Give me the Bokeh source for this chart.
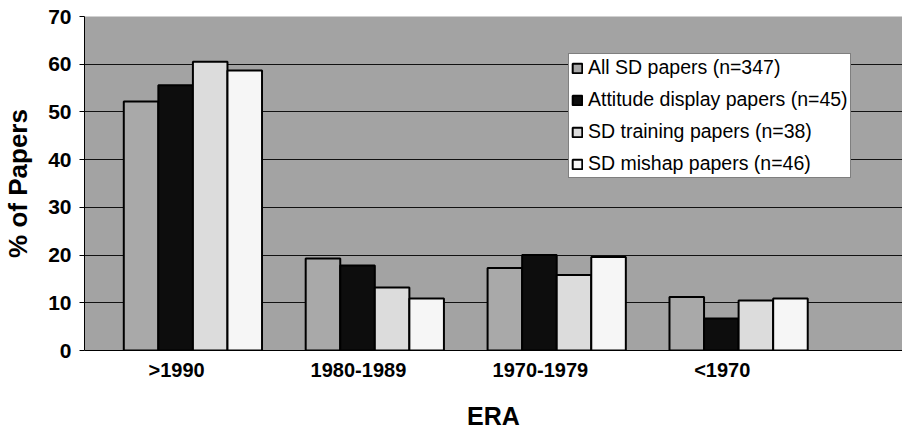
from bokeh.plotting import figure
from bokeh.models import Range1d, FixedTicker, ColumnDataSource, Legend
from bokeh.embed import file_html
from bokeh.resources import INLINE

# ---- data ----
eras = [">1990", "1980-1989", "1970-1979", "<1970"]
series_names = [
    "All SD papers (n=347)",
    "Attitude display papers (n=45)",
    "SD training papers (n=38)",
    "SD mishap papers (n=46)",
]
all_sd = [52.2, 19.3, 17.3, 11.2]
attitude = [55.6, 17.8, 20.0, 6.7]
training = [60.5, 13.2, 15.8, 10.5]
mishap = [58.7, 10.9, 19.6, 10.9]
y_ticks = [0, 10, 20, 30, 40, 50, 60, 70]

series_values = [all_sd, attitude, training, mishap]
colors = ["#a9a9a9", "#0d0d0d", "#dcdcdc", "#f6f6f6"]

FONT = "Liberation Sans"

p = figure(
    width=902, height=432,
    x_range=Range1d(-0.596, 3.901), y_range=Range1d(0, 70),
    output_backend="svg", toolbar_location=None,
    min_border_left=84, min_border_right=0, min_border_top=16, min_border_bottom=80,
)
p.background_fill_color = "#a3a3a3"
p.border_fill_color = "white"
p.outline_line_color = None

bar_w = 0.19
offsets = [-1.5 * bar_w, -0.5 * bar_w, 0.5 * bar_w, 1.5 * bar_w]
idx = list(range(len(eras)))
renderers = []
for name, vals, col, off in zip(series_names, series_values, colors, offsets):
    src = ColumnDataSource(dict(x=[i + off for i in idx], top=vals))
    r = p.vbar(x="x", top="top", width=bar_w, bottom=0, source=src,
               fill_color=col, line_color="black", line_width=2)
    renderers.append((name, [r]))

legend = Legend(items=renderers, location=(484, 172))
legend.label_text_font = FONT
legend.label_text_font_size = "19.5px"
legend.label_text_color = "black"
legend.label_height = 22
legend.glyph_width = 12
legend.glyph_height = 12
legend.label_standoff = 5
legend.spacing = 9
legend.padding = 2
legend.margin = 0
legend.border_line_color = "black"
legend.border_line_width = 1
legend.background_fill_color = "white"
legend.background_fill_alpha = 1
p.add_layout(legend)

# grid
p.xgrid.grid_line_color = None
p.ygrid.ticker = FixedTicker(ticks=y_ticks)
p.ygrid.grid_line_color = "#111111"
p.ygrid.grid_line_width = 1
p.ygrid.level = "underlay"

# y axis
p.yaxis.ticker = FixedTicker(ticks=y_ticks)
p.yaxis.axis_label = "% of Papers"
p.yaxis.axis_label_text_font = FONT
p.yaxis.axis_label_text_font_style = "bold"
p.yaxis.axis_label_text_font_size = "26px"
p.yaxis.axis_label_text_color = "black"
p.yaxis.axis_label_standoff = 12
p.yaxis.major_label_text_font = FONT
p.yaxis.major_label_text_font_style = "bold"
p.yaxis.major_label_text_font_size = "21px"
p.yaxis.major_label_text_color = "black"
p.yaxis.major_label_standoff = 8
p.yaxis.major_tick_out = 5
p.yaxis.major_tick_in = 0
p.yaxis.minor_tick_line_color = None
p.yaxis.axis_line_color = "black"
p.yaxis.axis_line_width = 1

# x axis
label_shift = -0.09
p.xaxis.ticker = FixedTicker(ticks=[i + label_shift for i in idx])
p.xaxis.major_label_overrides = {i + label_shift: e for i, e in zip(idx, eras)}
p.xaxis.major_label_text_font = FONT
p.xaxis.major_label_text_font_style = "bold"
p.xaxis.major_label_text_font_size = "20px"
p.xaxis.major_label_text_color = "black"
p.xaxis.major_label_standoff = 8
p.xaxis.major_tick_out = 0
p.xaxis.major_tick_in = 0
p.xaxis.major_tick_line_color = None
p.xaxis.minor_tick_line_color = None
p.xaxis.axis_line_color = "black"
p.xaxis.axis_label = "ERA"
p.xaxis.axis_label_text_font = FONT
p.xaxis.axis_label_text_font_style = "bold"
p.xaxis.axis_label_text_font_size = "25px"
p.xaxis.axis_label_text_color = "black"
p.xaxis.axis_label_standoff = 18

open("out.html", "w").write(file_html(p, INLINE))
